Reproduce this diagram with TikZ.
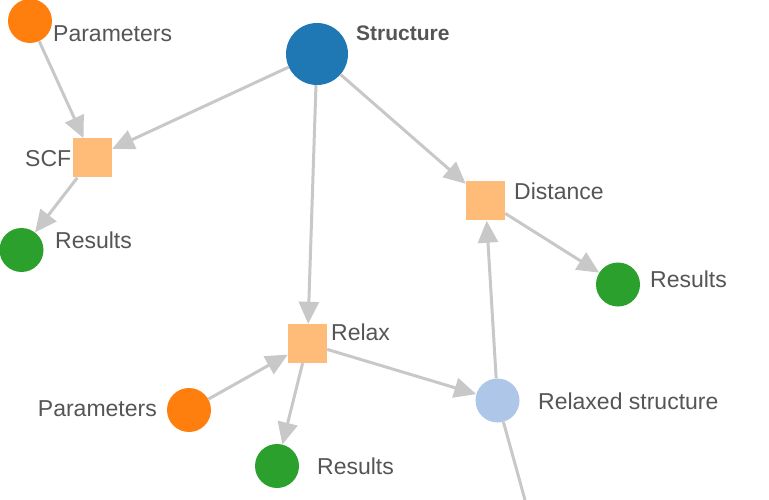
\documentclass[tikz,border=0pt]{standalone}
\usepackage{fontspec}
\setmainfont{Liberation Sans}
\usetikzlibrary{arrows.meta}
\definecolor{paramorange}{HTML}{FF7F0E}
\definecolor{structblue}{HTML}{1F77B4}
\definecolor{resultgreen}{HTML}{2CA02C}
\definecolor{calcorange}{HTML}{FFBB78}
\definecolor{relaxblue}{HTML}{AEC7E8}
\definecolor{linkgray}{HTML}{C8C8C8}
\definecolor{labelgray}{HTML}{555555}
\begin{document}
\begin{tikzpicture}[x=1pt, y=-1pt,
  data/.style={circle, inner sep=0pt, minimum size=44pt},
  calc/.style={rectangle, inner sep=0pt, minimum size=39pt, fill=calcorange},
  lbl/.style={anchor=base west, text=labelgray, inner sep=0pt,
    font=\fontsize{23}{27}\selectfont},
  link/.style={draw=linkgray, line width=3pt,
    -{Triangle[length=22pt, width=20pt]}}]
  \useasboundingbox (0,0) rectangle (769,500);

  % Input nodes
  \node[data, fill=structblue, minimum size=62pt] (struct) at (317, 54) {};
  \node[data, fill=paramorange] (paramA) at (30, 21) {};
  \node[data, fill=paramorange] (paramB) at (189, 410) {};

  % Calculations
  \node[calc] (scf) at (92.5, 158) {};
  \node[calc] (dist) at (485.5, 201) {};
  \node[calc] (relax) at (307.5, 343.5) {};

  % Outputs
  \node[data, fill=resultgreen] (resA) at (21.5, 250) {};
  \node[data, fill=resultgreen] (resB) at (618, 284.5) {};
  \node[data, fill=resultgreen] (resC) at (277, 466) {};
  \node[data, fill=relaxblue] (relaxed) at (497.5, 400.5) {};
  \coordinate (beyond) at (525, 500);

  % Labels
  \node[lbl, font=\fontsize{21}{25}\selectfont\bfseries] (structL) at (356, 41) {Structure};
  \node[lbl] (paramAL) at (53, 42) {Parameters};
  \node[lbl, anchor=base east] (paramBL) at (157, 416) {Parameters};
  \node[lbl] (scfL) at (25, 167) {SCF};
  \node[lbl] (distL) at (514, 200) {Distance};
  \node[lbl] (relaxL) at (331, 340) {Relax};
  \node[lbl] (resAL) at (55, 248) {Results};
  \node[lbl] (resBL) at (650, 287) {Results};
  \node[lbl] (resCL) at (317, 474) {Results};
  \node[lbl] (relaxedL) at (538, 409) {Relaxed structure};

  % Links
  \draw[link] (paramA) -- (scf);
  \draw[link] (struct) -- (scf);
  \draw[link] (scf) -- (resA);
  \draw[link] (struct) -- (dist);
  \draw[link] (struct) -- (relax);
  \draw[link] (dist) -- (resB);
  \draw[link] (paramB) -- (relax);
  \draw[link] (relax) -- (resC);
  \draw[link] (relax) -- (relaxed);
  \draw[link] (relaxed) -- (dist);
  \draw[link, -] (relaxed) -- (beyond);
\end{tikzpicture}
\end{document}
